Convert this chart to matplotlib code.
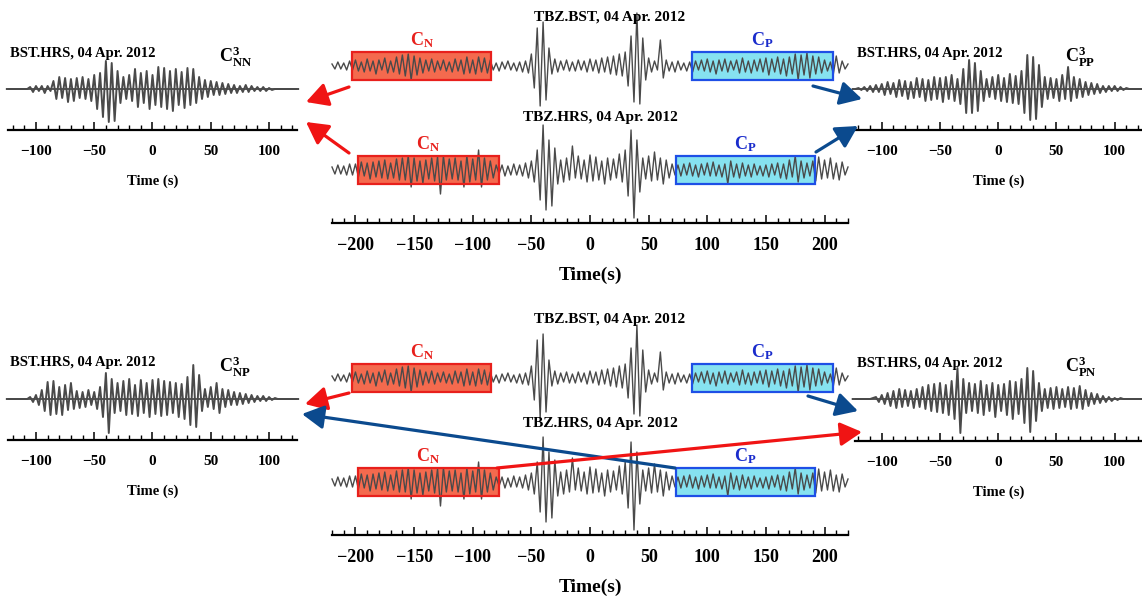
import numpy as np
import matplotlib.pyplot as plt
from matplotlib.patches import Rectangle
from matplotlib.ticker import MultipleLocator

plt.rcParams['font.family'] = 'Liberation Serif'
plt.rcParams['font.weight'] = 'bold'
plt.rcParams['axes.labelweight'] = 'bold'
plt.rcParams['mathtext.fontset'] = 'custom'
plt.rcParams['mathtext.rm'] = 'Liberation Serif:bold'
plt.rcParams['mathtext.it'] = 'Liberation Serif:bold'
plt.rcParams['mathtext.bf'] = 'Liberation Serif:bold'

# waveform extrema (amplitude), one value every 2.5 s, 8 values = 20 s per row
step = 2.5

# central records, first value at -220 s
tbz_bst = [
    2, -3, 4, -3, 3, -4, 5, -4,       # -220
    6, -5, 4, -6, 7, -5, 5, -8,       # -200
    6, -4, 8, -7, 5, -6, 9, -8,       # -180
    11, -10, 12, -14, 10, -9, 8, -7,  # -160
    6, -5, 7, -6, 5, -4, 6, -5,       # -140
    4, -6, 7, -5, 6, -8, 9, -7,       # -120
    6, -8, 9, -6, 8, -7, 6, -4,       # -100
    3, -5, 4, -3, 5, -4, 3, -5,       # -80
    4, -6, 5, -7, 12, -22, 38, -40,   # -60
    44, -34, 18, -8, 7, -6, 5, -4,    # -40
    6, -5, 4, -5, 6, -4, 5, -6,       # -20
    7, -5, 6, -7, 8, -6, 9, -8,       # 0
    10, -9, 12, -10, 14, -20, 30, -36,  # 20
    53, -38, 28, -14, 8, -6, 5, -4,   # 40
    26, -12, 6, -5, 4, -6, 5, -4,     # 60
    3, -5, 4, -6, 5, -4, 6, -5,       # 80
    7, -6, 5, -8, 6, -5, 7, -6,       # 100
    5, -4, 6, -7, 8, -6, 5, -7,       # 120
    6, -5, 7, -6, 8, -9, 7, -6,       # 140
    9, -8, 7, -10, 9, -8, 12, -14,    # 160
    11, -9, 13, -12, 10, -8, 9, -7,   # 180
    6, -5, 4, -8, 10, -7, 5, -3,      # 200
    2]
tbz_hrs = [
    3, -4, 5, -4, 4, -5, 6, -5,       # -220
    6, -7, 8, -6, 7, -9, 8, -7,       # -200
    9, -8, 10, -9, 7, -8, 11, -10,    # -180
    12, -10, 14, -17, 12, -11, 9, -13,  # -160
    10, -9, 12, -11, 13, -24, 14, -10,  # -140
    11, -9, 12, -10, 9, -17, 14, -12,   # -120
    11, -10, 20, -17, 12, -10, 9, -8,   # -100
    5, -4, 5, -6, 4, -5, 6, -5,       # -80
    5, -6, 7, -8, 9, -12, 20, -30,    # -60
    45, -40, 30, -36, 22, -14, 10, -12,  # -40
    12, -10, 24, -8, 14, -9, 10, -12,   # -20
    15, -11, 13, -10, 9, -14, 12, -10,  # 0
    11, -8, 16, -12, 20, -26, 40, -48,  # 20
    30, -22, 12, -9, 14, -11, 18, -10,  # 40
    12, -14, 10, -8, 6, -5, 5, -6,    # 60
    6, -5, 7, -6, 5, -7, 6, -5,       # 80
    7, -6, 8, -6, 5, -7, 6, -14,      # 100
    9, -7, 6, -8, 7, -6, 5, -7,       # 120
    6, -5, 4, -6, 5, -7, 6, -5,       # 140
    7, -8, 6, -9, 10, -7, 14, -12,    # 160
    9, -8, 7, -6, 9, -11, 13, -9,     # 180
    10, -8, 12, -9, 7, -10, 8, -5,    # 200
    3]

# C3 correlations, first value at -125 s
c3_nn = [
    0, 0, 0, 0, 0, 0, 0, 0,           # -125
    2, -3, 3, -2, 3, -4, 3, -2,       # -105
    8, -10, 12, -9, 11, -13, 10, -12,   # -85
    11, -9, 12, -10, 10, -12, 14, -20,  # -65
    16, -28, 28, -33, 26, -32, 18, -14,  # -45
    12, -10, 14, -12, 20, -18, 16, -14,  # -25
    18, -20, 14, -16, 22, -18, 21, -20,  # -5
    18, -22, 20, -16, 17, -19, 21, -16,  # 15
    20, -14, 12, -10, 9, -8, 8, -6,   # 35
    7, -6, 6, -5, 5, -4, 4, -4,       # 55
    3, -3, 4, -3, 3, -2, 2, -2,       # 75
    2, -2, 1, -1, 0, 0, 0, 0,         # 95
    0, 0, 0, 0, 0]
c3_pp = [
    0, 0, 1, -1, 2, -2, 3, -3,        # -125
    4, -3, 5, -6, 7, -5, 6, -8,       # -105
    9, -7, 8, -10, 7, -9, 11, -8,     # -85
    10, -12, 9, -11, 12, -10, 11, -13,  # -65
    12, -10, 14, -12, 10, -15, 20, -24,  # -45
    29, -24, 26, -22, 18, -12, 10, -8,   # -25
    12, -10, 14, -12, 11, -13, 15, -14,  # -5
    13, -15, 18, -24, 34, -31, 32, -30,  # 15
    24, -18, 12, -10, 11, -9, 10, -12,   # 35
    14, -10, 22, -12, 12, -9, 10, -8,    # 55
    7, -6, 6, -5, 5, -4, 3, -3,       # 75
    3, -2, 3, -2, 2, -1, 1, 0,        # 95
    0, 0, 0, 0, 0]
c3_np = [
    0, 0, 0, 0, 0, 0, 0, 0,           # -125
    2, -3, 4, -6, 9, -12, 17, -16,    # -105
    18, -15, 12, -16, 14, -11, 16, -10,  # -85
    8, -9, 7, -8, 9, -6, 7, -10,      # -65
    12, -18, 26, -34, 20, -14, 16, -12,  # -45
    18, -16, 20, -15, 14, -17, 19, -14,  # -25
    16, -18, 19, -15, 20, -17, 18, -16,  # -5
    17, -14, 16, -18, 15, -20, 22, -26,  # 15
    34, -28, 24, -12, 10, -8, 12, -10,   # 35
    16, -14, 10, -8, 9, -6, 7, -6,    # 55
    6, -5, 5, -4, 4, -3, 3, -2,       # 75
    3, -2, 2, -1, 1, 0, 0, 0,         # 95
    0, 0, 0, 0, 0]
c3_pn = [
    0, 0, 0, 0, 0, 0, 0, 1,           # -125
    2, -3, 4, -5, 6, -7, 8, -9,       # -105
    10, -8, 9, -7, 8, -9, 10, -8,     # -85
    12, -10, 14, -12, 15, -13, 16, -14,  # -65
    14, -16, 18, -20, 31, -34, 20, -14,  # -45
    16, -12, 15, -14, 18, -16, 14, -12,  # -25
    16, -18, 14, -12, 15, -16, 18, -20,  # -5
    17, -15, 20, -24, 31, -33, 28, -22,  # 15
    16, -12, 10, -9, 11, -10, 12, -9,    # 35
    10, -8, 12, -10, 11, -9, 13, -10,    # 55
    9, -7, 6, -5, 5, -4, 3, -3,       # 75
    2, -2, 1, -1, 1, 0, 0, 0,         # 95
    0, 0, 0, 0, 0]

# coda windows (s)
bst_cn = [-203, -84]
bst_cp = [87, 207]
hrs_cn = [-198, -78]
hrs_cp = [73, 192]

W, H = 1142, 599
wave_col = '#4a4a4a'
red_fill, red_edge = '#f46a4e', '#e8201c'
cyan_fill, blue_edge = '#86e2f0', '#1e4fe6'
arrow_red, arrow_blue = '#f01414', '#0b4a8e'

fig = plt.figure(figsize=(W / 100, H / 100), dpi=100)


def px_axes(x0, y0, x1, y1):
    return fig.add_axes([x0 / W, 1 - y1 / H, (x1 - x0) / W, (y1 - y0) / H])


def style_time_axis(ax, fs, pad):
    for s in ['left', 'right', 'top']:
        ax.spines[s].set_visible(False)
    ax.spines['bottom'].set_linewidth(1.6)
    ax.set_yticks([])
    ax.xaxis.set_major_locator(MultipleLocator(50))
    ax.xaxis.set_minor_locator(MultipleLocator(10))
    ax.tick_params(axis='x', which='major', direction='in', length=6, width=1.1,
                   labelsize=fs, pad=pad)
    ax.tick_params(axis='x', which='minor', direction='in', length=3.5, width=1.0)
    ax.patch.set_alpha(0)


def trace(ax, amp, t0, base, lw):
    t = t0 + step * np.arange(len(amp))
    ax.plot(t, base - np.array(amp), color=wave_col, lw=lw, zorder=3, clip_on=False)


def window(ax, win, base, fill, edge, label, lab_col):
    ax.add_patch(Rectangle((win[0], base - 14), win[1] - win[0], 28,
                           facecolor=fill, edgecolor='none', zorder=1))
    ax.add_patch(Rectangle((win[0], base - 14), win[1] - win[0], 28,
                           facecolor='none', edgecolor=edge, lw=1.6, zorder=4))
    ax.text((win[0] + win[1]) / 2, base - 16, label, color=lab_col, fontsize=13,
            ha='center', va='bottom')


def center_panel(top, b1, b2, spine):
    ax = px_axes(332, top, 848, spine)
    ax.set_xlim(-220, 220)
    ax.set_ylim(spine, top)
    style_time_axis(ax, 13, 10)
    ax.set_xticks([-200, -150, -100, -50, 0, 50, 100, 150, 200])
    ax.set_xlabel('Time(s)', fontsize=14, labelpad=9)
    trace(ax, tbz_bst, -220, b1, 1.0)
    trace(ax, tbz_hrs, -220, b2, 1.0)
    window(ax, bst_cn, b1, red_fill, red_edge, r'$\mathregular{C_N}$', red_edge)
    window(ax, bst_cp, b1, cyan_fill, blue_edge, r'$\mathregular{C_P}$', '#1a2ccc')
    window(ax, hrs_cn, b2, red_fill, red_edge, r'$\mathregular{C_N}$', red_edge)
    window(ax, hrs_cp, b2, cyan_fill, blue_edge, r'$\mathregular{C_P}$', '#1a2ccc')
    return ax


def side_panel(x0, x1, xl, top, base, spine, amp, name):
    ax = px_axes(x0, top, x1, spine)
    ax.set_xlim(xl[0], xl[1])
    ax.set_ylim(spine, top)
    style_time_axis(ax, 11, 11)
    ax.set_xticks([-100, -50, 0, 50, 100])
    ax.set_xlabel('Time (s)', fontsize=10.5, labelpad=12)
    ax.plot([xl[0], xl[1]], [base, base], color=wave_col, lw=1.3, zorder=2)
    trace(ax, amp, -125, base, 1.4)
    ax.text(xl[0] + 1.5, base - 36, 'BST.HRS, 04 Apr. 2012', fontsize=10.5,
            ha='left', va='center')
    ax.text(57, base - 32, name, fontsize=13, ha='left', va='center')
    return ax


center_panel(0, 66, 170, 223)
center_panel(300, 378, 482, 535)

side_panel(8, 297, (-124, 124), 40, 89, 130, c3_nn, r'$\mathregular{C^{3}_{NN}}$')
side_panel(855, 1142, (-123, 123.5), 40, 89, 130, c3_pp, r'$\mathregular{C^{3}_{PP}}$')
side_panel(8, 297, (-124, 124), 350, 399, 440, c3_np, r'$\mathregular{C^{3}_{NP}}$')
side_panel(855, 1142, (-123, 123.5), 350, 399, 441, c3_pn, r'$\mathregular{C^{3}_{PN}}$')

# overlay in pixel coordinates for titles and arrows
ov = fig.add_axes([0, 0, 1, 1], zorder=10)
ov.set_xlim(0, W)
ov.set_ylim(H, 0)
ov.axis('off')
ov.patch.set_alpha(0)

ov.text(610, 17, 'TBZ.BST, 04 Apr. 2012', fontsize=11, ha='center', va='center')
ov.text(600, 118, 'TBZ.HRS, 04 Apr. 2012', fontsize=11, ha='center', va='center')
ov.text(610, 319, 'TBZ.BST, 04 Apr. 2012', fontsize=11, ha='center', va='center')
ov.text(600, 423, 'TBZ.HRS, 04 Apr. 2012', fontsize=11, ha='center', va='center')

arrows = [
    ((349, 87), (306, 102), arrow_red),
    ((349, 153), (306, 122), arrow_red),
    ((813, 86), (862, 99), arrow_blue),
    ((816, 152), (858, 126), arrow_blue),
    ((349, 393), (305, 404), arrow_red),
    ((808, 396), (858, 411), arrow_blue),
    ((675, 468), (302, 414), arrow_blue),
    ((497, 468), (862, 432), arrow_red),
]
for tail, head, col in arrows:
    ov.annotate('', xy=head, xytext=tail,
                arrowprops=dict(arrowstyle='-|>,head_length=0.55,head_width=0.3',
                                color=col, lw=2.3, mutation_scale=24,
                                shrinkA=0, shrinkB=0))

fig.savefig('out.png', dpi=100)
